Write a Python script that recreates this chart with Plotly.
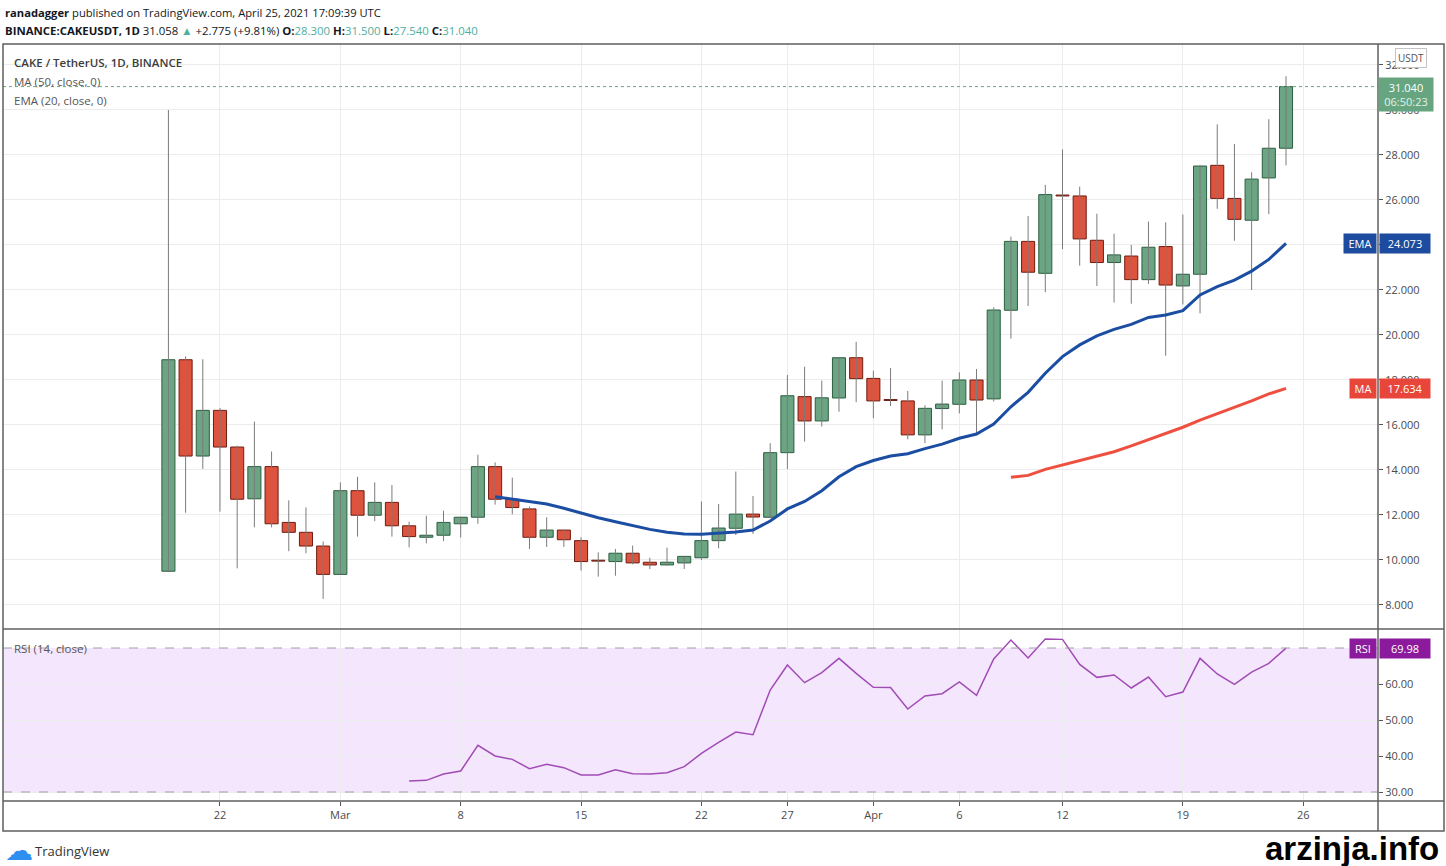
import pandas as pd
import plotly.graph_objects as go

# daily candles BINANCE:CAKEUSDT, Feb 19 - Apr 25 2021
dates = pd.date_range("2021-02-19", "2021-04-25", freq="D")

opens = [9.50, 18.90, 14.62, 16.65, 15.02, 12.72, 14.15, 11.67, 11.23, 10.62,
         9.36, 13.08, 11.99, 12.56, 11.52, 11.01, 11.10, 11.61, 11.90, 14.15,
         12.70, 12.27, 11.01, 11.33, 10.86, 9.99, 9.93, 10.30, 9.90, 9.78,
         9.87, 10.10, 10.86, 11.41, 12.04, 11.90, 14.77, 17.26, 16.18, 17.20,
         18.99, 18.07, 17.13, 17.07, 15.56, 16.73, 16.92, 18.00, 17.16, 21.10,
         24.16, 22.74, 26.22, 26.18, 24.21, 23.22, 23.51, 22.46, 23.93, 22.18,
         22.70, 27.54, 26.07, 25.10, 26.98, 28.30]
highs = [30.00, 19.05, 18.92, 16.75, 15.08, 16.15, 14.82, 12.65, 12.34, 10.82,
         13.45, 13.70, 13.45, 13.33, 11.70, 11.97, 12.19, 11.92, 14.68, 14.34,
         13.66, 12.37, 11.90, 11.35, 11.01, 10.34, 10.49, 10.64, 10.10, 10.55,
         10.18, 12.60, 12.49, 13.93, 12.84, 15.19, 18.22, 18.59, 17.97, 18.99,
         19.70, 18.41, 18.53, 17.51, 16.88, 17.97, 18.34, 18.49, 21.23, 24.37,
         25.29, 26.67, 28.25, 26.59, 25.39, 24.50, 24.00, 25.04, 25.01, 25.35,
         27.55, 29.36, 28.49, 27.23, 29.59, 31.50]
lows = [9.50, 12.10, 14.05, 12.15, 9.63, 11.45, 11.45, 10.39, 10.30, 8.27,
        9.36, 11.04, 11.73, 11.04, 10.56, 10.74, 10.84, 11.00, 11.61, 12.46,
        12.03, 10.49, 10.58, 10.58, 9.53, 9.26, 9.30, 9.81, 9.60, 9.76,
        9.60, 10.00, 10.52, 11.11, 11.16, 11.88, 14.04, 15.26, 15.93, 16.59,
        17.01, 16.30, 16.84, 15.36, 15.19, 15.81, 16.52, 15.60, 17.04, 19.84,
        21.29, 21.90, 23.82, 23.08, 22.18, 21.44, 21.39, 22.27, 19.08, 21.36,
        20.96, 25.61, 24.19, 22.00, 25.37, 27.54]
closes = [18.90, 14.62, 16.65, 15.02, 12.70, 14.15, 11.61, 11.23, 10.62, 9.36,
          13.08, 11.99, 12.56, 11.52, 11.04, 11.10, 11.67, 11.90, 14.15, 12.70,
          12.33, 11.01, 11.33, 10.90, 9.93, 9.95, 10.30, 9.87, 9.78, 9.90,
          10.16, 10.86, 11.42, 12.04, 11.91, 14.77, 17.30, 16.18, 17.21, 18.99,
          18.06, 17.07, 17.09, 15.56, 16.74, 16.93, 18.00, 17.11, 21.11, 24.16,
          22.79, 26.24, 26.18, 24.27, 23.22, 23.56, 22.46, 23.90, 22.22, 22.70,
          27.51, 26.07, 25.14, 26.93, 28.30, 31.04]

# EMA(20) from Mar 10, MA(50) from Apr 9, RSI(14) from Mar 5
ema20 = [12.81, 12.71, 12.62, 12.49, 12.30, 12.08, 11.88, 11.70, 11.52, 11.36,
         11.23, 11.16, 11.14, 11.19, 11.24, 11.33, 11.73, 12.27, 12.60, 13.08,
         13.70, 14.15, 14.42, 14.62, 14.72, 14.95, 15.15, 15.41, 15.60, 16.04,
         16.81, 17.45, 18.30, 19.04, 19.56, 19.96, 20.25, 20.47, 20.78, 20.89,
         21.08, 21.78, 22.15, 22.44, 22.84, 23.36, 24.07]
ma50 = [13.68, 13.76, 14.03, 14.22, 14.41, 14.61, 14.81, 15.07, 15.35, 15.60,
        15.90, 16.22, 16.50, 16.77, 17.07, 17.38, 17.63]
rsi14 = [33.06, 33.24, 35.00, 35.83, 42.96, 40.00, 39.07, 36.48, 37.69, 36.76,
         34.72, 34.72, 36.20, 35.09, 35.00, 35.37, 37.04, 40.74, 43.80, 46.67,
         45.93, 58.33, 65.28, 60.37, 63.15, 67.13, 62.96, 59.07, 59.00, 53.06,
         56.67, 57.31, 60.56, 56.85, 66.94, 72.22, 67.22, 72.50, 72.40, 65.46,
         61.85, 62.50, 58.89, 61.94, 56.48, 57.78, 67.13, 62.78, 59.90, 63.33,
         65.74, 69.98]

tick_dates = ["2021-02-22", "2021-03-01", "2021-03-08", "2021-03-15", "2021-03-22",
              "2021-03-27", "2021-04-01", "2021-04-06", "2021-04-12", "2021-04-19",
              "2021-04-26"]
tick_text = ["22", "Mar", "8", "15", "22", "27", "Apr", "6", "12", "19", "26"]
price_ticks = list(range(8, 34, 2))
rsi_ticks = [30, 40, 50, 60]

FONT = "Open Sans"
UP, UP_LINE = "#6ba583", "#2d5e40"
DN, DN_LINE = "#dd533e", "#6e1d12"
GRID = "#ececec"
TEAL = "#4fae9f"

ema_dates = dates[len(dates) - len(ema20):]
ma_dates = dates[len(dates) - len(ma50):]
rsi_dates = dates[len(dates) - len(rsi14):]

fig = go.Figure()

# wicks
wx, wy = [], []
for d, lo, hi in zip(dates, lows, highs):
    wx += [d, d, None]
    wy += [lo, hi, None]
fig.add_trace(go.Scatter(x=wx, y=wy, mode="lines", line=dict(color="#7b7b7b", width=1),
                         hoverinfo="skip", xaxis="x", yaxis="y"))

# bodies
up = [c >= o for o, c in zip(opens, closes)]
fig.add_trace(go.Bar(
    x=dates,
    y=[abs(c - o) for o, c in zip(opens, closes)],
    base=[min(o, c) for o, c in zip(opens, closes)],
    width=0.76 * 86400000,
    marker=dict(color=[UP if u else DN for u in up],
                line=dict(color=[UP_LINE if u else DN_LINE for u in up], width=1)),
    xaxis="x", yaxis="y"))

fig.add_trace(go.Scatter(x=ema_dates, y=ema20, mode="lines",
                         line=dict(color="#1b4ea3", width=3), xaxis="x", yaxis="y"))
fig.add_trace(go.Scatter(x=ma_dates, y=ma50, mode="lines",
                         line=dict(color="#ee4f3f", width=3), xaxis="x", yaxis="y"))
fig.add_trace(go.Scatter(x=rsi_dates, y=rsi14, mode="lines",
                         line=dict(color="#a04cb4", width=1.5), xaxis="x2", yaxis="y2"))

xrange = ["2021-02-09 09:07", "2021-04-30 08:24"]
split = 172 / 757

fig.update_layout(
    width=1446, height=866,
    margin=dict(l=3, r=68, t=44, b=65),
    paper_bgcolor="white", plot_bgcolor="white",
    showlegend=False, hovermode=False, barmode="overlay",
    font=dict(family=FONT, size=11, color="#4a4a4a"),
    xaxis=dict(type="date", range=xrange, tickvals=tick_dates, showticklabels=False,
               showgrid=True, gridcolor=GRID, zeroline=False, anchor="y"),
    xaxis2=dict(type="date", range=xrange, tickvals=tick_dates, ticktext=tick_text,
                showgrid=True, gridcolor=GRID, zeroline=False, anchor="y2",
                ticks="outside", ticklen=4, tickcolor="#555",
                tickfont=dict(family=FONT, size=11, color="#4a4a4a")),
    yaxis=dict(domain=[split, 1], range=[6.933, 32.933], side="right", anchor="x",
               tickvals=price_ticks, ticktext=[f"{v:.3f}" for v in price_ticks],
               ticks="outside", ticklen=4, tickcolor="#555", showgrid=True,
               gridcolor=GRID, zeroline=False,
               tickfont=dict(family=FONT, size=11, color="#4a4a4a")),
    yaxis2=dict(domain=[0, split], range=[27.5, 75.28], side="right", anchor="x2",
                tickvals=rsi_ticks, ticktext=[f"{v:.2f}" for v in rsi_ticks],
                ticks="outside", ticklen=4, tickcolor="#555", showgrid=True,
                gridcolor=GRID, zeroline=False,
                tickfont=dict(family=FONT, size=11, color="#4a4a4a")),
)

shapes = [
    # RSI band
    dict(type="rect", xref="paper", yref="y2", x0=0, x1=1, y0=30, y1=70,
         fillcolor="#f4e6fd", line=dict(width=0), layer="below"),
    dict(type="line", xref="paper", yref="y2", x0=0, x1=1, y0=30, y1=30,
         line=dict(color="#a0a0a0", width=1, dash="dash")),
    dict(type="line", xref="paper", yref="y2", x0=0, x1=1, y0=70, y1=70,
         line=dict(color="#a0a0a0", width=1, dash="dash")),
    # last price line
    dict(type="line", xref="paper", yref="y", x0=0, x1=1, y0=closes[-1], y1=closes[-1],
         line=dict(color=UP, width=1, dash="dot")),
    # frame
    dict(type="rect", xref="paper", yref="paper", x0=0, x1=1.048, y0=-0.0396, y1=1,
         line=dict(color="#5f5f5f", width=1.5)),
    dict(type="line", xref="paper", yref="paper", x0=1, x1=1, y0=-0.0396, y1=1,
         line=dict(color="#5f5f5f", width=1.5)),
    dict(type="line", xref="paper", yref="paper", x0=0, x1=1.048, y0=split, y1=split,
         line=dict(color="#5f5f5f", width=1.5)),
    dict(type="line", xref="paper", yref="paper", x0=0, x1=1.048, y0=0, y1=0,
         line=dict(color="#5f5f5f", width=1.5)),
]
fig.update_layout(shapes=shapes)


def px_y(py):
    return (801 - py) / 757


def px_x(px):
    return (px - 3) / 1375


ann = []
# header
ann.append(dict(xref="paper", yref="paper", x=0, y=px_y(12), xanchor="left", yanchor="middle",
                showarrow=False, font=dict(family=FONT, size=11.2, color="#131722"),
                text="<b>ranadagger</b> published on TradingView.com, April 25, 2021 17:09:39 UTC"))
ann.append(dict(xref="paper", yref="paper", x=0, y=px_y(31), xanchor="left", yanchor="middle",
                showarrow=False, font=dict(family=FONT, size=11.4, color="#131722"),
                text=("<b>BINANCE:CAKEUSDT, 1D</b> 31.058 "
                      f"<span style='color:{TEAL}'>▲</span> +2.775 (+9.81%) "
                      f"<b>O:</b><span style='color:{TEAL}'>28.300</span> "
                      f"<b>H:</b><span style='color:{TEAL}'>31.500</span> "
                      f"<b>L:</b><span style='color:{TEAL}'>27.540</span> "
                      f"<b>C:</b><span style='color:{TEAL}'>31.040</span>")))
# pane legends
ann.append(dict(xref="paper", yref="paper", x=px_x(12), y=px_y(63), xanchor="left",
                yanchor="middle", showarrow=False,
                font=dict(family=FONT, size=11.5, color="#3c3c3c", weight=600),
                text="CAKE / TetherUS, 1D, BINANCE"))
for txt, py in [("MA (50, close, 0)", 81), ("EMA (20, close, 0)", 100), ("RSI (14, close)", 648)]:
    ann.append(dict(xref="paper", yref="paper", x=px_x(12), y=px_y(py), xanchor="left",
                    yanchor="middle", showarrow=False,
                    font=dict(family=FONT, size=11.5, color="#555"), text=txt))

# price scale labels
ann.append(dict(xref="paper", yref="paper", x=px_x(1411), y=px_y(58), xanchor="center",
                yanchor="middle", showarrow=False, text="USDT", bgcolor="white",
                bordercolor="#c4c4c4", borderwidth=1, borderpad=2,
                font=dict(family=FONT, size=10, color="#555")))
ann.append(dict(xref="paper", yref="y", x=1, y=closes[-1], xanchor="left", yanchor="top",
                yshift=10, showarrow=False, bgcolor="#66a57f", borderpad=2, width=50,
                text="31.040<br><span style='color:#e4f2e9'>06:50:23</span>",
                font=dict(family=FONT, size=11, color="white")))
for name, val, yref, col, fmt, w in [("EMA", ema20[-1], "y", "#1c4ba0", "24.073", 28),
                                     ("MA", ma50[-1], "y", "#e8463a", "17.634", 22),
                                     ("RSI", rsi14[-1], "y2", "#8c1a9c", "69.98", 22)]:
    ann.append(dict(xref="paper", yref=yref, x=1, y=val, xanchor="right", yanchor="middle",
                    xshift=-1, showarrow=False, bgcolor=col, borderpad=2, text=name, width=w,
                    font=dict(family=FONT, size=11, color="white")))
    ann.append(dict(xref="paper", yref=yref, x=1, y=val, xanchor="left", yanchor="middle",
                    xshift=1, showarrow=False, bgcolor=col, borderpad=2, width=46,
                    text=fmt, font=dict(family=FONT, size=11, color="white")))

# footer
ann.append(dict(xref="paper", yref="paper", x=px_x(3), y=px_y(850), xanchor="left",
                yanchor="middle", showarrow=False, text="☁",
                font=dict(family="DejaVu Sans", size=28, color="#2e8ff0")))
ann.append(dict(xref="paper", yref="paper", x=px_x(33), y=px_y(851), xanchor="left",
                yanchor="middle", showarrow=False, text="TradingView",
                font=dict(family=FONT, size=13, color="#333")))
ann.append(dict(xref="paper", yref="paper", x=px_x(1441), y=px_y(848), xanchor="right",
                yanchor="middle", showarrow=False, text="<b>arzinja.info</b>",
                font=dict(family="Liberation Sans", size=33, color="black")))
fig.update_layout(annotations=ann)

fig.write_html("out.html", config={"displayModeBar": False},
               post_script="document.body.style.margin = '0';")
